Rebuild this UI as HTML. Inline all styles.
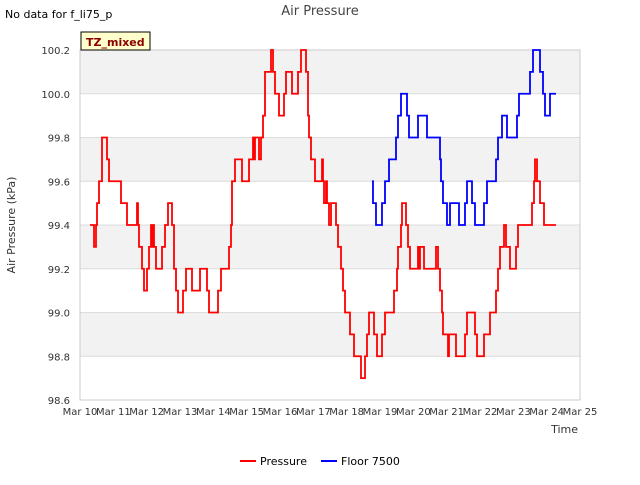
<!DOCTYPE html>
<html><head><meta charset="utf-8"><style>
body{margin:0;background:#fff;font-family:"Liberation Sans","DejaVu Sans",sans-serif}
</style></head><body>
<svg width="640" height="480" xmlns="http://www.w3.org/2000/svg" font-family="DejaVu Sans, Liberation Sans, sans-serif">
<text x="5" y="18" font-size="11">No data for f_li75_p</text>
<text x="320" y="15" font-size="13" fill="#444" text-anchor="middle">Air Pressure</text>
<g id="plot"></g>
<rect x="81" y="32" width="69" height="18" fill="#ffffcc" stroke="#000" stroke-width="1"/>
<text x="86" y="46" font-size="11" font-weight="bold" fill="#8b0000">TZ_mixed</text>
<text x="15" y="225" font-size="11" fill="#333" text-anchor="middle" transform="rotate(-90 15 225)">Air Pressure (kPa)</text>
<text x="578" y="433" font-size="11" fill="#333" text-anchor="end">Time</text>
<g>
<line x1="240" y1="461" x2="256" y2="461" stroke="#f00" stroke-width="2"/>
<text x="260" y="465" font-size="11">Pressure</text>
<line x1="321" y1="461" x2="337" y2="461" stroke="#00f" stroke-width="2"/>
<text x="341" y="465" font-size="11">Floor 7500</text>
</g>
</svg>
<script>
const yTicks=[98.6,98.8,99.0,99.2,99.4,99.6,99.8,100.0,100.2];
const xLabels=["Mar 10","Mar 11","Mar 12","Mar 13","Mar 14","Mar 15","Mar 16","Mar 17","Mar 18","Mar 19","Mar 20","Mar 21","Mar 22","Mar 23","Mar 24","Mar 25"];
const redT=[0.30,0.42,0.48,0.51,0.57,0.66,0.81,0.87,1.23,1.41,1.71,1.74,1.77,1.86,1.92,2.01,2.07,2.13,2.16,2.19,2.22,2.28,2.46,2.55,2.64,2.76,2.82,2.88,2.94,3.09,3.18,3.36,3.60,3.81,3.87,4.14,4.23,4.47,4.53,4.56,4.65,4.86,5.07,5.19,5.22,5.25,5.37,5.43,5.49,5.55,5.73,5.79,5.85,5.97,6.12,6.18,6.36,6.54,6.63,6.78,6.84,6.87,6.93,7.05,7.26,7.29,7.32,7.38,7.41,7.47,7.53,7.68,7.74,7.83,7.89,7.95,8.10,8.22,8.43,8.55,8.61,8.67,8.82,8.91,9.06,9.15,9.42,9.51,9.54,9.63,9.66,9.78,9.84,9.90,10.14,10.17,10.20,10.26,10.32,10.68,10.74,10.80,10.86,10.89,11.04,11.07,11.28,11.55,11.61,11.85,11.91,12.12,12.30,12.48,12.54,12.60,12.72,12.78,12.90,13.08,13.14,13.56,13.62,13.65,13.71,13.80,13.92,14.28];
const redV=[99.4,99.3,99.4,99.5,99.6,99.8,99.7,99.6,99.5,99.4,99.5,99.4,99.3,99.2,99.1,99.2,99.3,99.4,99.3,99.4,99.3,99.2,99.3,99.4,99.5,99.4,99.2,99.1,99.0,99.1,99.2,99.1,99.2,99.1,99.0,99.1,99.2,99.3,99.4,99.6,99.7,99.6,99.7,99.8,99.7,99.8,99.7,99.8,99.9,100.1,100.2,100.1,100.0,99.9,100.0,100.1,100.0,100.1,100.2,100.1,99.9,99.8,99.7,99.6,99.7,99.6,99.5,99.6,99.5,99.4,99.5,99.4,99.3,99.2,99.1,99.0,98.9,98.8,98.7,98.8,98.9,99.0,98.9,98.8,98.9,99.0,99.1,99.2,99.3,99.4,99.5,99.4,99.3,99.2,99.3,99.2,99.3,99.3,99.2,99.3,99.2,99.1,99.0,98.9,98.8,98.9,98.8,98.9,99.0,98.9,98.8,98.9,99.0,99.1,99.2,99.3,99.4,99.3,99.2,99.3,99.4,99.5,99.6,99.7,99.6,99.5,99.4,99.4];
const blueT=[8.76,8.79,8.88,9.06,9.15,9.27,9.48,9.54,9.63,9.81,9.87,10.14,10.41,10.80,10.83,10.89,11.01,11.10,11.37,11.55,11.61,11.76,11.85,12.12,12.21,12.48,12.54,12.66,12.81,13.11,13.17,13.50,13.59,13.80,13.89,13.95,14.10,14.28];
const blueV=[99.6,99.5,99.4,99.5,99.6,99.7,99.8,99.9,100.0,99.9,99.8,99.9,99.8,99.7,99.6,99.5,99.4,99.5,99.4,99.5,99.6,99.5,99.4,99.5,99.6,99.7,99.8,99.9,99.8,99.9,100.0,100.1,100.2,100.1,100.0,99.9,100.0,100.0];
const X0=80,X1=580,Y0=400,Y1=50;
const xs=d=>X0+d*(X1-X0)/15;
const ys=v=>Y0-(v-98.6)*(Y0-Y1)/1.6;
const NS="http://www.w3.org/2000/svg";
const g=document.getElementById('plot');
function mk(t,a){const e=document.createElementNS(NS,t);for(const k in a)e.setAttribute(k,a[k]);g.appendChild(e);return e;}
for(let i=0;i<yTicks.length-1;i++){
 if(i%2==1){const r=mk('rect',{x:X0,y:ys(yTicks[i+1]),width:X1-X0,height:ys(yTicks[i])-ys(yTicks[i+1]),fill:'#f2f2f2'});
 
 }
}
yTicks.forEach(v=>{
 const l=mk('line',{x1:X0,x2:X1,y1:ys(v),y2:ys(v),stroke:'#dcdcdc','stroke-width':1});
 
 
 const t=mk('text',{x:X0-10,y:ys(v)+4,'font-size':10,fill:'#333','text-anchor':'end'});t.textContent=v.toFixed(1);
 
 
});
xLabels.forEach((s,i)=>{
 const t=mk('text',{x:xs(i),y:415,'font-size':10,fill:'#333','text-anchor':'middle'});t.textContent=s;
 
 
});
const fr=mk('rect',{x:X0,y:Y1,width:X1-X0,height:Y0-Y1,fill:'none',stroke:'#ccc'});


function step(T,V,c,name){
 let d='M'+xs(T[0])+','+ys(V[0]);
 for(let i=1;i<T.length;i++){d+=' H'+xs(T[i])+' V'+ys(V[i]);}
 const p=mk('path',{d:d,fill:'none',stroke:c,'stroke-width':1.8});
 
 
}
step(redT,redV,'#ff0000','pressure-line');
step(blueT,blueV,'#0000ff','floor-7500-line');
</script>
</body></html>
